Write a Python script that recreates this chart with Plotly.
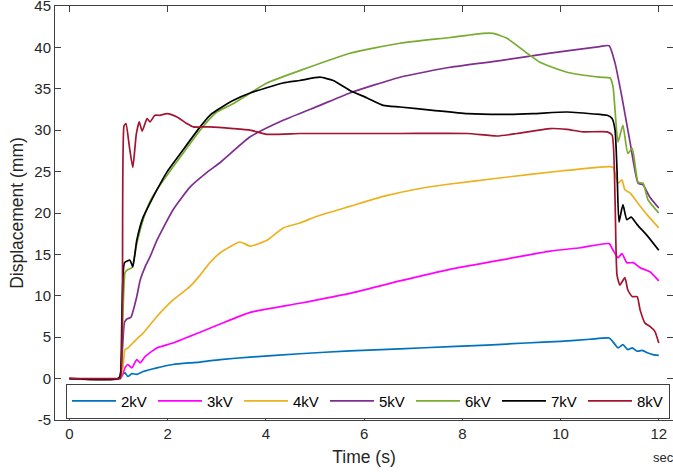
import plotly.graph_objects as go

# ---- data (time in s, displacement in mm) ----
labels = ["2kV", "3kV", "4kV", "5kV", "6kV", "7kV", "8kV"]
colors = ["#0072BD", "#FF00FF", "#EDB120", "#7E2F8E", "#77AC30", "#000000", "#A2142F"]

t_2kv = [0, 1.0, 1.07, 1.13, 1.19, 1.27, 1.37, 1.5, 1.78, 2.11, 2.45, 2.66, 3.07, 3.68, 4.69, 5.71,
         6.73, 7.75, 8.5, 9.3, 10.0, 10.6, 10.99, 11.1, 11.17, 11.27, 11.37, 11.46, 11.56, 11.66,
         11.78, 11.88, 12.0]
v_2kv = [0, 0, 0.5, 0.7, 0.25, 0.6, 0.5, 0.85, 1.3, 1.7, 1.9, 2.0, 2.3, 2.6, 3.0, 3.35,
         3.6, 3.85, 4.05, 4.3, 4.5, 4.75, 4.9, 4.2, 3.7, 4.1, 3.5, 3.7, 3.3, 3.4,
         3.1, 2.9, 2.8]

t_3kv = [0, 1.0, 1.07, 1.13, 1.19, 1.27, 1.37, 1.44, 1.54, 1.78, 2.11, 2.45, 2.66, 3.07, 3.68,
         4.69, 5.71, 6.73, 7.75, 8.77, 9.79, 10.4, 10.99, 11.07, 11.17, 11.25, 11.35, 11.48,
         11.62, 11.82, 12.0]
v_3kv = [0, 0, 0.3, 1.3, 1.7, 1.3, 2.3, 1.9, 2.65, 3.7, 4.3, 5.1, 5.6, 6.6, 8.0,
         9.1, 10.3, 11.8, 13.2, 14.3, 15.4, 15.8, 16.3, 15.5, 14.6, 15.1, 14.0, 14.0,
         13.4, 12.9, 11.8]

t_4kv = [0, 1.0, 1.05, 1.09, 1.13, 1.19, 1.29, 1.39, 1.5, 1.78, 2.11, 2.45, 2.66, 2.86, 3.07,
         3.47, 3.68, 4.02, 4.35, 4.69, 5.04, 5.71, 6.39, 7.08, 7.75, 8.71, 10.05, 10.99, 11.07,
         11.17, 11.25, 11.31, 11.42, 11.56, 11.76, 12.0]
v_4kv = [0, 0, 0.3, 1.45, 3.5, 3.7, 4.3, 4.9, 5.5, 7.5, 9.5, 11.1, 12.5, 14.0, 15.2,
         16.5, 16.0, 16.7, 18.2, 18.8, 19.6, 20.8, 22.0, 22.9, 23.5, 24.2, 25.1, 25.6, 25.5,
         23.6, 24.0, 22.8, 22.4, 21.3, 19.8, 18.2]

t_5kv = [0, 1.0, 1.05, 1.12, 1.17, 1.25, 1.37, 1.44, 1.54, 1.64, 1.78, 2.11, 2.45, 2.8, 3.07,
         3.68, 4.35, 5.1, 5.71, 6.73, 7.75, 8.77, 9.79, 10.8, 10.99, 11.11, 11.25, 11.42, 11.58,
         11.68, 11.82, 12.0]
v_5kv = [0, 0, 1.0, 6.8, 7.2, 7.4, 9.9, 11.9, 13.5, 14.7, 16.7, 20.4, 23.1, 24.9, 26.1,
         29.2, 31.2, 33.0, 34.5, 36.4, 37.6, 38.4, 39.3, 40.1, 40.2, 38.1, 34.0, 28.4, 23.6,
         23.4, 21.9, 20.6]

t_6kv = [0, 1.0, 1.04, 1.13, 1.17, 1.27, 1.37, 1.5, 1.64, 1.8, 1.99, 2.31, 2.66, 2.86, 3.0,
         3.33, 4.02, 4.69, 5.71, 6.73, 7.75, 8.42, 8.63, 8.91, 9.32, 9.58, 10.13, 10.8, 11.01,
         11.07, 11.17, 11.27, 11.37, 11.46, 11.58, 11.68, 11.78, 12.0]
v_6kv = [0, 0, 0.5, 12.8, 13.1, 13.4, 16.3, 19.2, 21.4, 23.0, 24.6, 27.2, 30.0, 31.4, 32.2,
         33.2, 35.7, 37.2, 39.3, 40.5, 41.2, 41.7, 41.7, 41.1, 39.3, 38.2, 37.0, 36.4, 36.3,
         35.2, 28.6, 30.6, 27.2, 27.8, 23.7, 23.6, 21.6, 20.0]

t_7kv = [0, 1.0, 1.04, 1.12, 1.23, 1.29, 1.37, 1.5, 1.64, 1.78, 1.99, 2.31, 2.66, 2.86, 3.0,
         3.33, 3.68, 4.35, 4.69, 5.1, 5.37, 5.71, 6.06, 6.39, 6.73, 7.4, 8.1, 8.77, 9.44,
         10.13, 10.8, 10.95, 11.05, 11.11, 11.15, 11.19, 11.27, 11.35, 11.44, 11.56, 11.76, 12.0]
v_7kv = [0, 0, 0.5, 14.0, 14.3, 13.5, 16.7, 19.5, 21.2, 22.8, 25.0, 27.6, 30.4, 31.8, 32.4,
         33.6, 34.5, 35.7, 36.0, 36.4, 36.0, 34.8, 33.9, 33.0, 32.8, 32.4, 32.0, 31.9, 32.0,
         32.2, 31.9, 31.8, 31.4, 30.0, 25.2, 18.9, 21.0, 19.2, 19.5, 18.6, 17.3, 15.5]

t_8kv = [0, 1.0, 1.04, 1.11, 1.15, 1.22, 1.29, 1.36, 1.42, 1.48, 1.58, 1.64, 1.74, 1.84, 1.99,
         2.19, 2.39, 2.52, 2.86, 3.33, 3.68, 4.02, 4.69, 5.1, 6.73, 8.1, 8.71, 9.11, 9.79,
         10.13, 10.46, 10.95, 11.05, 11.11, 11.15, 11.21, 11.31, 11.37, 11.46, 11.56, 11.62,
         11.72, 11.82, 11.92, 12.0]
v_8kv = [0, 0, 0.0, 30.5, 30.8, 28.0, 25.5, 29.5, 31.0, 29.9, 31.4, 31.0, 31.8, 31.8, 32.0,
         31.6, 30.8, 30.4, 30.4, 30.2, 30.0, 29.5, 29.6, 29.6, 29.6, 29.6, 29.3, 29.6, 30.2,
         30.1, 29.8, 29.8, 29.4, 21.6, 12.5, 11.3, 12.2, 10.7, 9.9, 9.9, 8.3,
         6.7, 6.3, 5.7, 4.3]

series_t = [t_2kv, t_3kv, t_4kv, t_5kv, t_6kv, t_7kv, t_8kv]
series_v = [v_2kv, v_3kv, v_4kv, v_5kv, v_6kv, v_7kv, v_8kv]

x_ticks = [0, 2, 4, 6, 8, 10, 12]
y_ticks = [-5, 0, 5, 10, 15, 20, 25, 30, 35, 40, 45]

FONT = "Liberation Sans, Arial, Helvetica, sans-serif"
TXT = "#262626"
AX = "#404040"

fig = go.Figure()
for name, col, tt, vv in zip(labels, colors, series_t, series_v):
    fig.add_trace(go.Scatter(x=tt, y=vv, mode="lines", name=name,
                             line=dict(color=col, width=1.7, shape="spline", smoothing=0.5)))

fig.update_layout(
    width=673, height=472,
    margin=dict(l=55, r=0, t=5.5, b=51.5, autoexpand=False),
    paper_bgcolor="white", plot_bgcolor="white",
    font=dict(family=FONT, color=TXT, size=15),
    showlegend=True,
    legend=dict(orientation="h", x=0.0178, y=0.088, xanchor="left", yanchor="top",
                bgcolor="white", bordercolor=AX, borderwidth=1,
                font=dict(size=15, color="#000000"),
                entrywidth=27, entrywidthmode="pixels", itemwidth=44,
                tracegroupgap=0),
)
fig.update_xaxes(range=[-0.295, 12.29], tickvals=x_ticks, ticktext=[str(v) for v in x_ticks],
                 automargin=False, ticklabeloverflow="allow",
                 showgrid=False, zeroline=False, showline=True, linecolor=AX, linewidth=1,
                 mirror="ticks", ticks="inside", ticklen=6, tickcolor=AX, tickwidth=1,
                 tickfont=dict(size=15, color=TXT),
                 title=dict(text="Time (s)", font=dict(size=17.5, color=TXT), standoff=9))
fig.update_yaxes(range=[-5.001, 45.001], tickvals=y_ticks, ticktext=[str(v) for v in y_ticks],
                 automargin=False, ticklabeloverflow="allow",
                 showgrid=False, zeroline=False, showline=True, linecolor=AX, linewidth=1,
                 mirror="ticks", ticks="inside", ticklen=6, tickcolor=AX, tickwidth=1,
                 tickfont=dict(size=15, color=TXT),
                 title=dict(text="Displacement (mm)", font=dict(size=17.5, color=TXT), standoff=6))
fig.add_annotation(text="sec", xref="paper", yref="paper", x=0.964, y=-0.09,
                   xanchor="left", yanchor="middle", showarrow=False,
                   font=dict(size=13, color=TXT, family=FONT))

fig.write_html("out.html", config={"displayModeBar": False},
               post_script="document.body.style.margin='0px';")
